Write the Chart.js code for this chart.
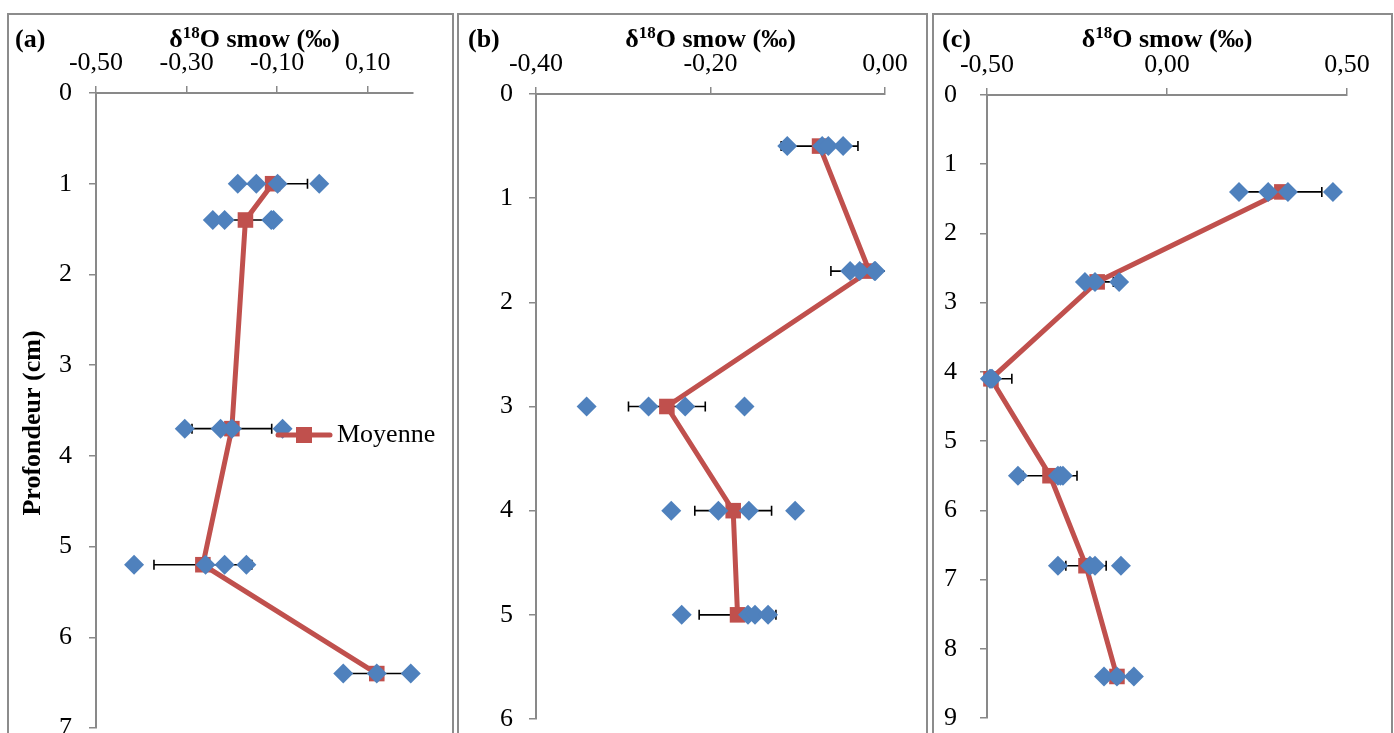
<!DOCTYPE html>
<html>
<head>
<meta charset="utf-8">
<title>Profils de δ18O</title>
<script src="https://cdn.jsdelivr.net/npm/chart.js@4.4.0/dist/chart.umd.min.js"></script>
<style>
  html, body { margin: 0; padding: 0; background: #fff; width: 1394px; height: 733px; overflow: hidden; }
  .panneau { position: absolute; top: 13px; height: 800px; border: 2px solid #8c8c8c; box-sizing: border-box; background: #fff; }
  .panneau canvas { position: absolute; left: 0; top: 0; }
</style>
</head>
<body>
<div class="panneau" style="left:7px; width:447px;"><canvas id="grafico_a" width="443" height="760"></canvas></div>
<div class="panneau" style="left:457px; width:471px;"><canvas id="grafico_b" width="467" height="760"></canvas></div>
<div class="panneau" style="left:932px; width:461px;"><canvas id="grafico_c" width="457" height="760"></canvas></div>

<script>
// (a) profondeurs (cm), mesures individuelles, moyennes et écarts-types
const profondeursA = [1, 1.4, 3.7, 5.2, 6.4];
const mesuresA = [
  [-0.187, -0.146, -0.099, -0.007],
  [-0.242, -0.216, -0.113, -0.108],
  [-0.304, -0.225, -0.200, -0.088],
  [-0.416, -0.258, -0.216, -0.168],
  [0.046, 0.120, 0.195]
];
const moyennesA = [-0.110, -0.170, -0.200, -0.264, 0.120];
const ecartsA = [0.077, 0.069, 0.088, 0.108, 0.075];
const graduationsXA = [-0.5, -0.3, -0.1, 0.1];

// (b)
const profondeursB = [0.5, 1.7, 3, 4, 5];
const mesuresB = [
  [-0.112, -0.072, -0.065, -0.048],
  [-0.040, -0.029, -0.012, -0.011],
  [-0.342, -0.271, -0.229, -0.161],
  [-0.245, -0.191, -0.156, -0.103],
  [-0.233, -0.157, -0.149, -0.134]
];
const moyennesB = [-0.075, -0.018, -0.250, -0.174, -0.169];
const ecartsB = [0.044, 0.044, 0.044, 0.044, 0.044];
const graduationsXB = [-0.4, -0.2, 0];

// (c)
const profondeursC = [1.4, 2.7, 4.1, 5.5, 6.8, 8.4];
const mesuresC = [
  [0.200, 0.281, 0.336, 0.461],
  [-0.228, -0.200, -0.133],
  [-0.492, -0.489, -0.486],
  [-0.414, -0.303, -0.296, -0.289],
  [-0.303, -0.214, -0.200, -0.128],
  [-0.175, -0.139, -0.092]
];
const moyennesC = [0.319, -0.194, -0.489, -0.325, -0.225, -0.139];
const ecartsC = [0.111, 0.045, 0.058, 0.075, 0.056, 0.035];
const graduationsXC = [-0.5, 0, 0.5];

const BLEU = '#4f81bd';
const ROUGE = '#c0504d';
const GRIS = '#898989';
const POLICE = '"Times New Roman", "Liberation Serif", serif';

// barres d'erreur horizontales (moyenne ± écart-type), coupées aux bords de la zone
const barresErreur = {
  id: 'barresErreur',
  beforeDatasetsDraw(chart, args, o) {
    const ctx = chart.ctx;
    const sx = chart.scales.x;
    const sy = chart.scales.y;
    const zone = chart.chartArea;
    ctx.save();
    ctx.beginPath();
    ctx.rect(zone.left, zone.top - 10, zone.right - zone.left, zone.bottom - zone.top + 20);
    ctx.clip();
    ctx.strokeStyle = '#000';
    ctx.lineWidth = 1.6;
    o.moyennes.forEach(function (m, i) {
      const y = sy.getPixelForValue(o.profondeurs[i]);
      const x1 = sx.getPixelForValue(m - o.ecarts[i]);
      const x2 = sx.getPixelForValue(m + o.ecarts[i]);
      ctx.beginPath();
      ctx.moveTo(x1, y); ctx.lineTo(x2, y);
      ctx.moveTo(x1, y - 5); ctx.lineTo(x1, y + 5);
      ctx.moveTo(x2, y - 5); ctx.lineTo(x2, y + 5);
      ctx.stroke();
    });
    ctx.restore();
  }
};

// lettre du panneau, titre des axes et légende
const textesPanneau = {
  id: 'textesPanneau',
  afterDraw(chart, args, o) {
    const ctx = chart.ctx;
    const zone = chart.chartArea;
    const grand = 'bold 26px ' + POLICE;
    const petit = 'bold 17px ' + POLICE;
    ctx.save();
    ctx.fillStyle = '#000';
    ctx.textBaseline = 'alphabetic';
    ctx.textAlign = 'left';
    ctx.font = grand;
    ctx.fillText(o.lettre, o.lettreX, o.ligneTitre);

    const debut = 'δ', fin = 'O smow (‰)';
    const wDebut = ctx.measureText(debut).width;
    const wFin = ctx.measureText(fin).width;
    ctx.font = petit;
    const wExp = ctx.measureText('18').width;
    let x = (zone.left + zone.right) / 2 - (wDebut + wExp + wFin) / 2;
    ctx.font = grand;
    ctx.fillText(debut, x, o.ligneTitre);
    x += wDebut;
    ctx.font = petit;
    ctx.fillText('18', x, o.ligneTitre - 9);
    x += wExp;
    ctx.font = grand;
    ctx.fillText(fin, x, o.ligneTitre);

    if (o.titreY) {
      ctx.save();
      ctx.translate(o.titreY.x, o.titreY.y);
      ctx.rotate(-Math.PI / 2);
      ctx.textAlign = 'center';
      ctx.textBaseline = 'middle';
      ctx.fillText(o.titreY.texte, 0, 0);
      ctx.restore();
    }

    if (o.legende) {
      const l = o.legende;
      ctx.strokeStyle = ROUGE;
      ctx.lineWidth = 5;
      ctx.lineCap = 'round';
      ctx.beginPath();
      ctx.moveTo(l.x, l.y);
      ctx.lineTo(l.x + 52, l.y);
      ctx.stroke();
      ctx.fillStyle = ROUGE;
      ctx.fillRect(l.x + 26 - 8, l.y - 8, 16, 16);
      ctx.fillStyle = '#000';
      ctx.font = '26px ' + POLICE;
      ctx.textBaseline = 'middle';
      ctx.fillText(l.texte, l.x + 59, l.y);
    }
    ctx.restore();
  }
};

function creerGraphique(idCanvas, p) {
  var points = [];
  p.mesures.forEach(function (serie, i) {
    serie.forEach(function (v) {
      points.push({ x: v, y: p.profondeurs[i] });
    });
  });
  var moyenne = p.moyennes.map(function (v, i) {
    return { x: v, y: p.profondeurs[i] };
  });

  const fonte = { family: POLICE, size: 26 };
  const grille = { drawOnChartArea: false, drawTicks: true, tickLength: 7, color: GRIS, lineWidth: 1.5 };
  const bord = { color: GRIS, width: 2 };

  return new Chart(document.getElementById(idCanvas), {
    type: 'scatter',
    data: {
      datasets: [{
        label: 'Mesures',
        data: points,
        pointStyle: 'rectRot',
        pointRadius: 10,
        pointHoverRadius: 10,
        backgroundColor: BLEU,
        borderWidth: 0,
        pointBorderWidth: 0,
        clip: false
      }, {
        label: 'Moyenne',
        data: moyenne,
        showLine: true,
        borderColor: ROUGE,
        borderWidth: 5,
        pointStyle: 'rect',
        pointRadius: 11,
        pointHoverRadius: 11,
        pointBackgroundColor: ROUGE,
        pointBorderWidth: 0,
        clip: false
      }]
    },
    options: {
      responsive: false,
      animation: false,
      events: [],
      layout: { padding: { left: 0, top: 0, right: p.marges.droite, bottom: p.marges.bas } },
      plugins: {
        legend: { display: false },
        tooltip: { enabled: false },
        barresErreur: { profondeurs: p.profondeurs, moyennes: p.moyennes, ecarts: p.ecarts },
        textesPanneau: p.textes
      },
      scales: {
        x: {
          type: 'linear',
          position: 'top',
          min: p.xMin,
          max: p.xMax,
          afterBuildTicks: function (s) {
            s.ticks = p.graduationsX.map(function (v) { return { value: v }; });
          },
          afterFit: function (s) {
            s.height = p.marges.haut;
            s.paddingLeft = 0;
            s.paddingRight = 0;
          },
          ticks: {
            font: fonte,
            color: '#000',
            padding: 7,
            maxRotation: 0,
            autoSkip: false,
            callback: function (v) { return v.toFixed(2).replace('.', ','); }
          },
          grid: grille,
          border: bord
        },
        y: {
          type: 'linear',
          reverse: true,
          min: 0,
          max: p.yMax,
          afterFit: function (s) {
            s.width = p.marges.gauche;
            s.paddingTop = 0;
            s.paddingBottom = 0;
          },
          ticks: { stepSize: 1, font: fonte, color: '#000', padding: p.ecartY, autoSkip: false },
          grid: grille,
          border: bord
        }
      }
    },
    plugins: [barresErreur, textesPanneau]
  });
}

creerGraphique('grafico_a', {
  profondeurs: profondeursA, mesures: mesuresA, moyennes: moyennesA, ecarts: ecartsA,
  graduationsX: graduationsXA, xMin: -0.5, xMax: 0.2, yMax: 7, ecartY: 17,
  marges: { gauche: 87, haut: 78, droite: 39, bas: 47 },
  textes: {
    lettre: '(a)', lettreX: 6, ligneTitre: 32,
    titreY: { texte: 'Profondeur (cm)', x: 24, y: 408 },
    legende: { texte: 'Moyenne', x: 269, y: 420 }
  }
});

creerGraphique('grafico_b', {
  profondeurs: profondeursB, mesures: mesuresB, moyennes: moyennesB, ecarts: ecartsB,
  graduationsX: graduationsXB, xMin: -0.4, xMax: 0, yMax: 6, ecartY: 16,
  marges: { gauche: 77, haut: 79, droite: 41, bas: 56 },
  textes: { lettre: '(b)', lettreX: 9, ligneTitre: 32 }
});

creerGraphique('grafico_c', {
  profondeurs: profondeursC, mesures: mesuresC, moyennes: moyennesC, ecarts: ecartsC,
  graduationsX: graduationsXC, xMin: -0.5, xMax: 0.5, yMax: 9, ecartY: 23,
  marges: { gauche: 53, haut: 80, droite: 44, bas: 57 },
  textes: { lettre: '(c)', lettreX: 8, ligneTitre: 32 }
});
</script>
</body>
</html>
